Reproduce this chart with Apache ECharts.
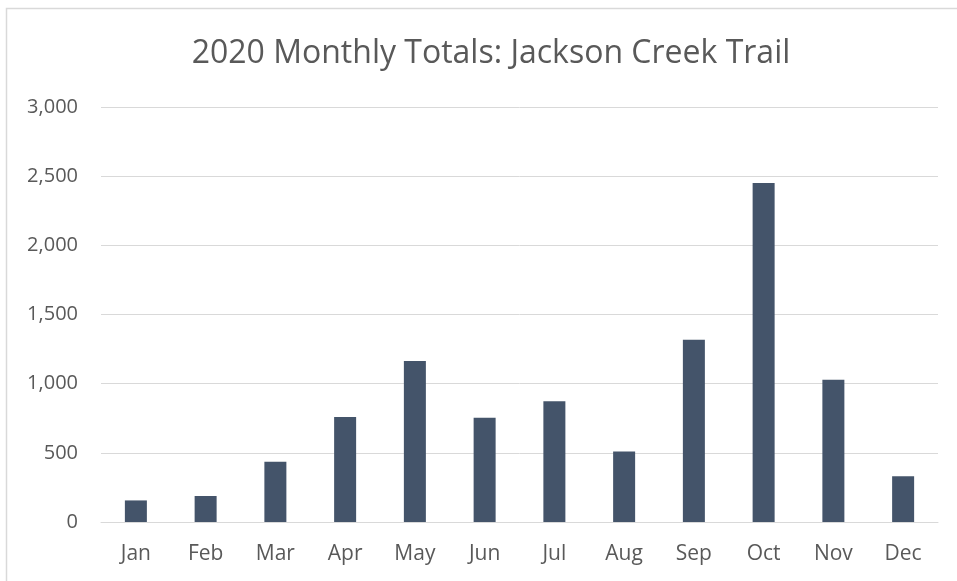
<!DOCTYPE html>
<html>
<head>
<meta charset="utf-8">
<style>
  html, body { margin: 0; padding: 0; background: #ffffff; }
  #chart { width: 957px; height: 581px; }
</style>
<script src="https://cdn.jsdelivr.net/npm/echarts@6/dist/echarts.min.js"></script>
</head>
<body>
<div id="chart"></div>
<script>
// Monthly trail counts for 2020
const months = ['Jan', 'Feb', 'Mar', 'Apr', 'May', 'Jun', 'Jul', 'Aug', 'Sep', 'Oct', 'Nov', 'Dec'];
const totals = [156, 188, 436, 759, 1164, 754, 872, 510, 1318, 2450, 1028, 330];
const yTicks = { min: 0, max: 3000, interval: 500 };

const font = '"Open Sans", sans-serif';
const textColor = '#595959';
const gridColor = '#d9d9d9';

const chart = echarts.init(document.getElementById('chart'), null, { renderer: 'canvas' });
chart.setOption({
  backgroundColor: '#ffffff',
  animation: false,
  graphic: [{
    type: 'rect',
    shape: { x: 6.5, y: 8.5, width: 1000, height: 1000 },
    style: { fill: 'none', stroke: '#d9d9d9', lineWidth: 1.5 },
    silent: true
  }],
  title: {
    text: '2020 Monthly Totals: Jackson Creek Trail',
    left: 486,
    textAlign: 'center',
    top: 33,
    textStyle: { fontFamily: font, fontSize: 32, fontWeight: 'normal', color: textColor }
  },
  grid: { left: 101, right: 19, top: 107, bottom: 59, containLabel: false },
  xAxis: {
    type: 'category',
    data: months,
    axisLine: { show: true, lineStyle: { color: gridColor, width: 1 } },
    axisTick: { show: false },
    axisLabel: { fontFamily: font, fontSize: 21, color: textColor, margin: 22 }
  },
  yAxis: {
    type: 'value',
    min: yTicks.min,
    max: yTicks.max,
    interval: yTicks.interval,
    axisLine: { show: false },
    axisTick: { show: false },
    splitLine: { lineStyle: { color: gridColor, width: 1 } },
    axisLabel: {
      fontFamily: font, fontSize: 20, color: textColor, margin: 23,
      formatter: v => v.toLocaleString('en-US')
    }
  },
  series: [{
    type: 'bar',
    data: totals,
    barWidth: 22,
    itemStyle: { color: '#44546a' }
  }]
});
</script>
</body>
</html>
